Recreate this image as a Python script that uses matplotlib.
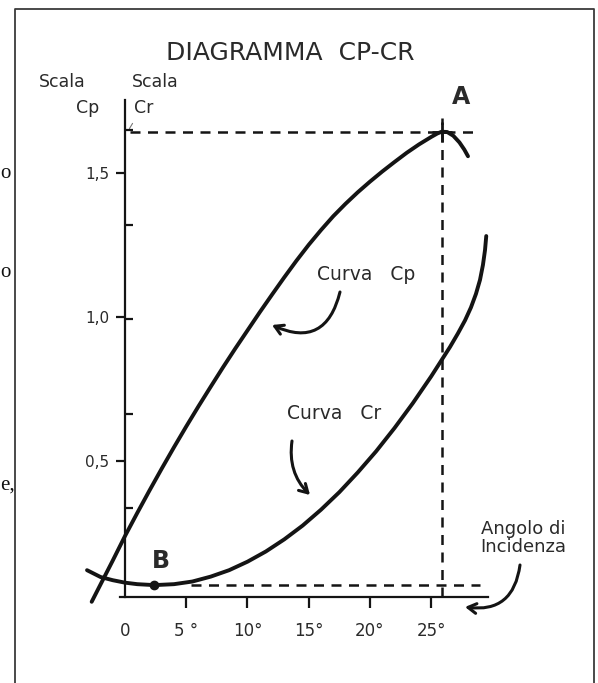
import matplotlib.pyplot as plt
from matplotlib.lines import Line2D

# Curva Cp: angolo di incidenza (gradi) -> coefficiente di portanza
cp_angle = [-2.72, -2, -1, 0, 1, 2, 3, 4, 5, 6, 7, 8, 9, 10, 11, 12, 13, 14, 15,
            16, 17, 18, 19, 20, 21, 22, 23, 24, 25, 25.5, 25.85, 26.3, 26.8, 27.3,
            27.7, 28]
cp_value = [0.012, 0.072, 0.155, 0.240, 0.320, 0.398, 0.474, 0.548, 0.620, 0.690,
            0.758, 0.825, 0.890, 0.953, 1.016, 1.077, 1.137, 1.195, 1.250, 1.301,
            1.349, 1.392, 1.432, 1.469, 1.504, 1.537, 1.569, 1.598, 1.624, 1.636,
            1.642, 1.641, 1.628, 1.605, 1.580, 1.557]

# Curva Cr: angolo di incidenza (gradi) -> coefficiente di resistenza
cr_angle = [-3.1, -2, -1, 0, 1, 2.4, 4, 5.5, 7, 8.5, 10, 11.5, 13, 14.5, 16, 17.5,
            19, 20.5, 22, 23.5, 25, 25.85, 26.53, 27.18, 27.76, 28.24, 28.65, 28.98,
            29.22, 29.39, 29.49]
cr_value = [0.0172, 0.0136, 0.0119, 0.0106, 0.0098, 0.0093, 0.0098, 0.0112, 0.0138,
            0.0172, 0.0217, 0.0271, 0.0335, 0.0408, 0.0492, 0.0585, 0.0689, 0.0801,
            0.0924, 0.1056, 0.1198, 0.1284, 0.1353, 0.1425, 0.1494, 0.1562, 0.1634,
            0.1708, 0.1787, 0.1866, 0.1940]

angle_ticks = [0, 5, 10, 15, 20, 25]
angle_labels = ['0', '5 °', '10°', '15°', '20°', '25°']
cp_ticks = [0.5, 1.0, 1.5]
cp_labels = ['0,5', '1,0', '1,5']
cr_ticks = [0.05, 0.10, 0.15, 0.20, 0.25]

# punti notevoli
point_a = (25.85, 1.642)   # massimo Cp
point_b = (2.4, 0.0093)    # minimo Cr

INK = '#141414'
TXT = '#2a2a2a'
W, H = 598, 683


def px(x, y):
    # pixel dell'immagine -> frazione della figura
    return x / W, 1 - y / H


fig = plt.figure(figsize=(W / 100, H / 100), dpi=100)
ax = fig.add_axes([0.12709, 0.04627, 0.71697, 0.8107])
ax.set_xlim(-4, 31)
ax.set_ylim(-0.16, 1.76)
ax2 = ax.twinx()
ax2.set_ylim(-0.02577, 0.26720)

# assi
axis_y0 = 0.029
for s in ['top', 'right']:
    ax.spines[s].set_visible(False)
ax.spines['left'].set_position(('data', 0))
ax.spines['left'].set_bounds(axis_y0, 1.752)
ax.spines['bottom'].set_position(('data', axis_y0))
ax.spines['bottom'].set_bounds(-0.4, 29.6)
for s in ['left', 'bottom']:
    ax.spines[s].set_linewidth(1.6)
    ax.spines[s].set_color(INK)

ax.set_xticks(angle_ticks)
ax.set_xticklabels(angle_labels)
ax.set_yticks(cp_ticks)
ax.set_yticklabels(cp_labels)
ax.tick_params(axis='x', direction='out', length=8, width=1.6, pad=10,
               labelsize=12, colors=INK, labelcolor=TXT)
ax.tick_params(axis='y', direction='out', length=6.5, width=1.6, pad=5,
               labelsize=11, colors=INK, labelcolor=TXT)
ax.xaxis.get_major_ticks()[0].tick1line.set_visible(False)

# scala Cr: tacche interne sull'asse verticale
for s in ax2.spines.values():
    s.set_visible(False)
ax2.spines['left'].set_position(('data', 0))
ax2.yaxis.tick_left()
ax2.set_yticks(cr_ticks)
ax2.tick_params(axis='y', direction='in', length=6, width=1.6, colors=INK,
                labelleft=False, labelright=False, right=False)

# curve
ax.plot(cp_angle, cp_value, color=INK, lw=2.8, solid_capstyle='round',
        solid_joinstyle='round')
ax2.plot(cr_angle, cr_value, color=INK, lw=2.8, solid_capstyle='round',
         solid_joinstyle='round')

# linee tratteggiate dei punti A e B
dash = dict(color=INK, lw=1.8, linestyles=(0, (4, 3)))
ax.hlines(point_a[1], 0.4, 28.7, **dash)
ax.vlines(point_a[0], axis_y0, 1.69, **dash)
ax2.hlines(point_b[1], point_b[0] + 3, 29.0, **dash)
ax.plot(*point_a, marker='+', ms=14, mew=2, color=INK)
ax2.plot(*point_b, marker='o', ms=6, color=INK)

# testi
fig.text(*px(290, 53), 'DIAGRAMMA  CP-CR', ha='center', va='center',
         fontsize=18, color=TXT)
fig.text(*px(62, 82), 'Scala', ha='center', va='center', fontsize=12.5, color=TXT)
fig.text(*px(88, 108), 'Cp', ha='center', va='center', fontsize=12.5, color=TXT)
fig.text(*px(155, 82), 'Scala', ha='center', va='center', fontsize=12.5, color=TXT)
fig.text(*px(144, 108), 'Cr', ha='center', va='center', fontsize=12.5, color=TXT)
fig.text(*px(461, 97), 'A', ha='center', va='center', fontsize=17,
         fontweight='bold', color=TXT)
fig.text(*px(161, 561), 'B', ha='center', va='center', fontsize=17,
         fontweight='bold', color=TXT)
fig.text(*px(366, 274), 'Curva   Cp', ha='center', va='center', fontsize=13.5, color=TXT)
fig.text(*px(334, 413), 'Curva   Cr', ha='center', va='center', fontsize=13.5, color=TXT)
fig.text(*px(523, 538), 'Angolo di\nIncidenza', ha='center', va='center',
         fontsize=13, color=TXT, linespacing=0.95)

# frecce
arrow = dict(arrowstyle='->,head_length=0.6,head_width=0.35', lw=2.2, color=INK,
             shrinkA=0, shrinkB=0)
ax.annotate('', xy=px(272, 325), xytext=px(340, 292), xycoords='figure fraction',
            textcoords='figure fraction',
            arrowprops=dict(arrow, connectionstyle='arc3,rad=-0.6'))
ax.annotate('', xy=px(310, 495), xytext=px(292, 441), xycoords='figure fraction',
            textcoords='figure fraction',
            arrowprops=dict(arrow, connectionstyle='arc3,rad=0.25'))
ax.annotate('', xy=px(465, 607), xytext=px(520, 565), xycoords='figure fraction',
            textcoords='figure fraction',
            arrowprops=dict(arrow, connectionstyle='arc3,rad=-0.5'))
ax.annotate('', xy=px(128, 131), xytext=px(134, 121), xycoords='figure fraction',
            textcoords='figure fraction',
            arrowprops=dict(arrowstyle='-', lw=0.8, color='#777'))

# cornice della pagina
frame = dict(color='#3a3a3a', lw=1.3, transform=fig.transFigure)
fig.add_artist(Line2D([15 / W, 15 / W, 594 / W, 594 / W],
                      [0, 1 - 9 / H, 1 - 9 / H, 0], **frame))

# frammenti del testo del libro a margine
for y, t in [(173, 'o'), (273, 'o'), (485, 'e,')]:
    fig.text(*px(0.5, y), t, ha='left', va='center', fontsize=15,
             family='Liberation Serif', color='#111')

fig.savefig('out.png', dpi=100)
